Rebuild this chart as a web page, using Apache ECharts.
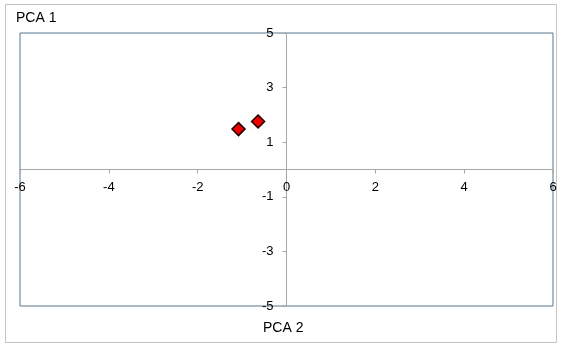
<!DOCTYPE html>
<html>
<head>
<meta charset="utf-8">
<script src="https://cdn.jsdelivr.net/npm/echarts@6/dist/echarts.min.js"></script>
<style>
  html, body { margin: 0; padding: 0; background: #fff; }
  #chart { width: 561px; height: 345px; }
</style>
</head>
<body>
<div id="chart"></div>
<script>
// PCA scores: [PCA 2, PCA 1]
const pca2Values = [-1.08, -0.64];
const pca1Values = [1.48, 1.76];
const xTicks = [-6, -4, -2, 0, 2, 4, 6];
const yTicks = [-5, -3, -1, 1, 3, 5];

const points = pca2Values.map((x, i) => [x, pca1Values[i]]);

const chart = echarts.init(document.getElementById('chart'), null, { renderer: 'canvas' });
const font = '"Liberation Sans", Arial, sans-serif';

const gridLeft = 20, gridTop = 33, gridW = 533, gridH = 273;
const xMin = -6, xMax = 6, yMin = -5, yMax = 5;
// shift the axes so they cross at the origin, with labels following them
const xAxisOffset = -gridH * (0 - yMin) / (yMax - yMin);
const yAxisOffset = -gridW * (0 - xMin) / (xMax - xMin);

chart.setOption({
  animation: false,
  backgroundColor: '#ffffff',
  grid: {
    left: gridLeft, top: gridTop, width: gridW, height: gridH,
    show: true, borderColor: '#56778f', borderWidth: 1, backgroundColor: 'transparent'
  },
  xAxis: {
    type: 'value', min: xMin, max: xMax, interval: 2,
    position: 'bottom', offset: xAxisOffset,
    axisLine: { onZero: false, lineStyle: { color: '#a6a6a6', width: 1 } },
    axisTick: { show: true, length: 4, lineStyle: { color: '#a6a6a6' } },
    axisLabel: {
      color: '#000', fontFamily: font, fontSize: 13, margin: 11,
      formatter: v => xTicks.includes(v) ? String(v) : ''
    },
    splitLine: { show: false }
  },
  yAxis: {
    type: 'value', min: yMin, max: yMax, interval: 2,
    position: 'left', offset: yAxisOffset,
    axisLine: { onZero: false, lineStyle: { color: '#a6a6a6', width: 1 } },
    axisTick: { show: true, length: 4, lineStyle: { color: '#a6a6a6' } },
    axisLabel: {
      color: '#000', fontFamily: font, fontSize: 13, margin: 13,
      formatter: v => yTicks.includes(v) ? String(v) : ''
    },
    splitLine: { show: false }
  },
  graphic: [
    { type: 'rect', z: -1, shape: { x: 5.5, y: 4.5, width: 551, height: 338 },
      style: { fill: 'none', stroke: '#c4c4c4', lineWidth: 1 } },
    { type: 'text', left: 16, top: 11,
      style: { text: 'PCA 1', font: '14px ' + font, fill: '#000' } },
    { type: 'text', left: 263, top: 321,
      style: { text: 'PCA 2', font: '14px ' + font, fill: '#000' } }
  ],
  series: [{
    type: 'scatter',
    data: points,
    symbol: 'diamond',
    symbolSize: 13,
    itemStyle: { color: '#ee0000', borderColor: '#1a0000', borderWidth: 1.5, opacity: 1 }
  }]
});
</script>
</body>
</html>
